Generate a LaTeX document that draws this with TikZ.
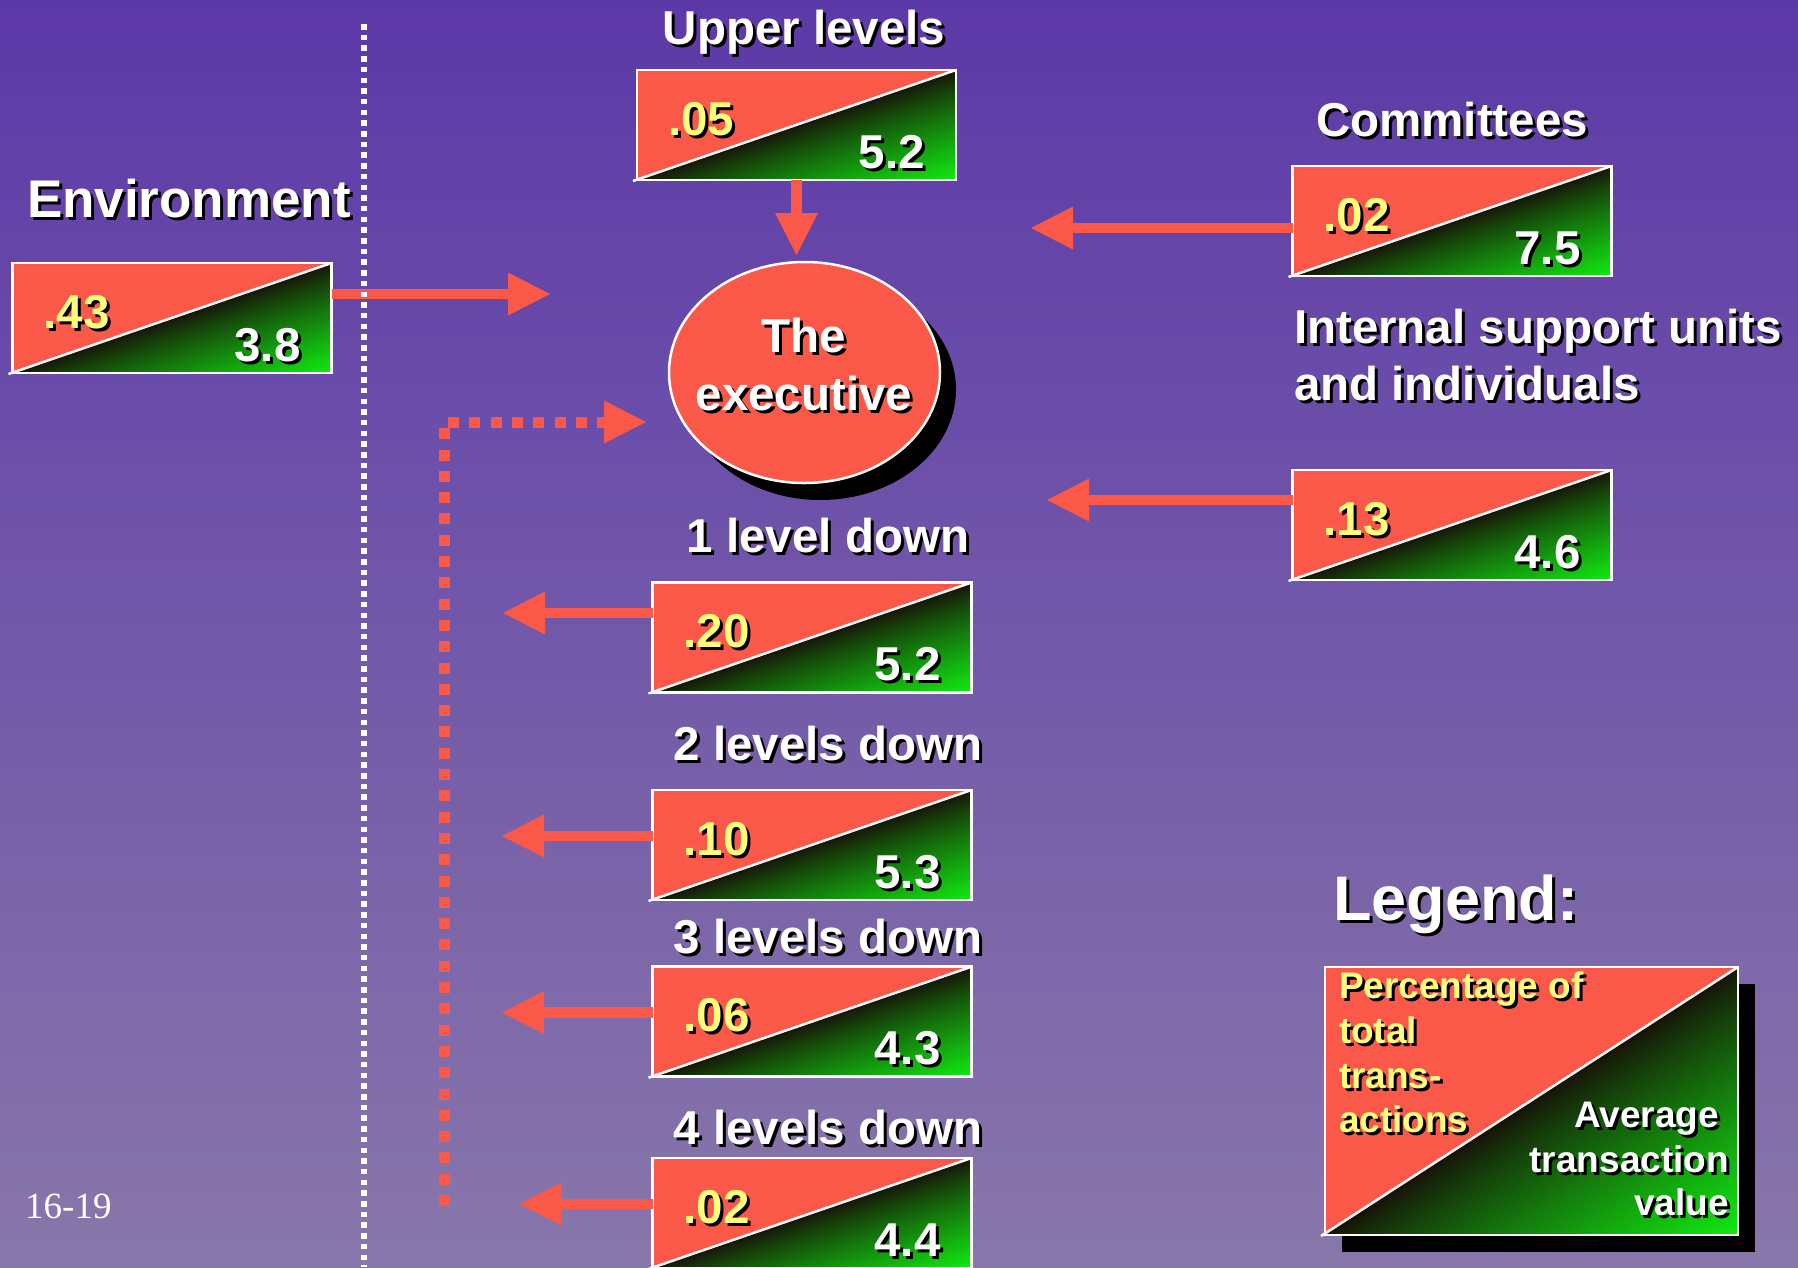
\documentclass[tikz,border=0pt]{standalone}
\usepackage{fontspec}
\setmainfont{Liberation Sans}
\newfontfamily\pagenumfont{Liberation Serif}
\usetikzlibrary{arrows.meta,calc,shapes.geometric}

\definecolor{bgtop}{RGB}{92,57,168}
\definecolor{bgbot}{RGB}{136,119,170}
\definecolor{boxred}{RGB}{250,88,72}
\definecolor{boxgreen}{RGB}{17,235,17}
\definecolor{wedgedark}{RGB}{22,20,8}
\definecolor{numyellow}{RGB}{255,255,125}

\tikzset{
  txt/.style={inner sep=0pt, outer sep=0pt, anchor=base, text=white,
    font=\bfseries\fontsize{47.5}{57}\selectfont},
  envfont/.style={font=\bfseries\fontsize{53}{64}\selectfont},
  titlefont/.style={font=\bfseries\fontsize{63}{76}\selectfont},
  legfont/.style={font=\bfseries\fontsize{37}{44}\selectfont},
  ratiobox/.style={rectangle, minimum width=319pt, minimum height=110pt,
    inner sep=0pt, outer sep=0pt, fill=boxred},
  boxedge/.style={draw=white, line width=2.5pt, line join=miter},
  bigarrow/.style={draw=boxred, line width=10.5pt,
    -{Triangle[length=42pt,width=43pt,line width=0pt]}},
  dotarrow/.style={bigarrow, line width=11pt, dash pattern=on 11pt off 10.3pt},
}

% text with a black drop shadow
\newcommand\shtxt[4][]{%
  \node[txt,#1,text=black,xshift=3pt,yshift=-3pt] (#2-s) at (#3) {#4};
  \node[txt,#1] (#2) at (#3) {#4};}

% green wedge below the diagonal, white frame and diagonal
\newcommand\splitfill[1]{%
  \foreach \g in {0,2,...,98}{
    \pgfmathsetmacro\gmix{100*(\g/100)^0.85}
    \fill[boxgreen!\gmix!wedgedark]
      ($(#1.south west)!{\g/100}!(#1.south east)$) --
      ($(#1.north east)!{\g/100}!(#1.south east)$) --
      (#1.south east) -- cycle;}
  \draw[boxedge] (#1.south west) rectangle (#1.north east);
  \draw[boxedge] ([shift={(-4,1)}]#1.south west) -- (#1.north east);}

% box: name, centre, share of transactions, average value
\newcommand\ratiobox[4]{%
  \node[ratiobox] (#1) at (#2) {};
  \splitfill{#1}
  \shtxt[anchor=base west,text=numyellow]{#1-p}{$(#1.north west)+(31,65)$}{#3}
  \shtxt[anchor=base east]{#1-v}{$(#1.north east)+(-31,98)$}{#4}}

\begin{document}
\begin{tikzpicture}[x=1pt,y=-1pt]
\useasboundingbox (0,0) rectangle (1798,1267);
\shade[top color=bgtop, bottom color=bgbot] (0,0) rectangle (1798,1267);

% the executive
\node[ellipse, minimum width=271pt, minimum height=221pt, inner sep=0pt,
  fill=black] (exec-sh) at (820.5,389.5) {};
\node[ellipse, minimum width=271pt, minimum height=221pt, inner sep=0pt,
  fill=boxred, draw=white, line width=2.5pt] (exec) at (804.5,372.5) {};
\shtxt{lthe}{804,352}{The}
\shtxt{lexec}{804,410}{executive}

% transaction boxes
\ratiobox{env}{172,318}{.43}{3.8}
\ratiobox{up}{796.5,125}{.05}{5.2}
\ratiobox{com}{1452,221}{.02}{7.5}
\ratiobox{isu}{1452,525}{.13}{4.6}
\ratiobox{d1}{812,637.5}{.20}{5.2}
\ratiobox{d2}{812,845}{.10}{5.3}
\ratiobox{d3}{812,1021.7}{.06}{4.3}
\ratiobox{d4}{812,1213}{.02}{4.4}

% labels
\shtxt{lup}{804,44.5}{Upper levels}
\shtxt[envfont]{lenv}{189,217}{Environment}
\shtxt{lcom}{1452,136}{Committees}
\shtxt[anchor=base west]{lisu1}{1294,343}{Internal support units}
\shtxt[anchor=base west]{lisu2}{1294,400}{and individuals}
\shtxt{ld1}{828,552.5}{1 level down}
\shtxt{ld2}{828,760}{2 levels down}
\shtxt{ld3}{828,953}{3 levels down}
\shtxt{ld4}{828,1144}{4 levels down}

% transaction arrows
\coordinate (envtip) at (550,294);
\coordinate (uptip) at (796.5,255);
\coordinate (comtip) at (1031,228);
\coordinate (isutip) at (1047,500);
\coordinate (d1tip) at (503,613);
\coordinate (d2tip) at (502,836);
\coordinate (d3tip) at (502,1012.5);
\coordinate (d4tip) at (519.5,1204);
\draw[bigarrow] (envtip -| env.east) -- (envtip);
\draw[bigarrow] (up.south) -- (uptip);
\draw[bigarrow] (comtip -| com.west) -- (comtip);
\draw[bigarrow] (isutip -| isu.west) -- (isutip);
\draw[bigarrow] (d1tip -| d1.west) -- (d1tip);
\draw[bigarrow] (d2tip -| d2.west) -- (d2tip);
\draw[bigarrow] (d3tip -| d3.west) -- (d3tip);
\draw[bigarrow] (d4tip -| d4.west) -- (d4tip);

% return path from the lower levels
\coordinate (dotstart) at (444,1206);
\coordinate (dottip) at (646,422);
\draw[dotarrow] (dotstart) |- (dottip);

% boundary of the organisation
\coordinate (divtop) at (364,24);
\coordinate (divbot) at (364,1267);
\draw[white, line width=6pt, dash pattern=on 5.5pt off 5.2pt] (divtop) -- (divbot);

% legend
\shtxt[anchor=base west, titlefont]{legt}{1333,920}{Legend:}
\node[rectangle, minimum width=413pt, minimum height=268pt, inner sep=0pt,
  outer sep=0pt, fill=black] (leg-sh) at (1548.5,1118) {};
\node[ratiobox, minimum width=413pt, minimum height=268pt] (leg) at (1531.5,1101) {};
\splitfill{leg}
\shtxt[anchor=base west, legfont, text=numyellow]{lp1}{1339,998}{Percentage of}
\shtxt[anchor=base west, legfont, text=numyellow]{lp2}{1339,1043}{total}
\shtxt[anchor=base west, legfont, text=numyellow]{lp3}{1339,1088}{trans-}
\shtxt[anchor=base west, legfont, text=numyellow]{lp4}{1339,1132}{actions}
\shtxt[anchor=base east, legfont]{lv1}{1719,1127}{Average}
\shtxt[anchor=base east, legfont]{lv2}{1729,1172}{transaction}
\shtxt[anchor=base east, legfont]{lv3}{1729,1215}{value}

% page number
\node[anchor=base west, inner sep=0pt, text=white,
  font=\pagenumfont\fontsize{37}{44}\selectfont] (pg) at (25,1218) {16-19};
\end{tikzpicture}
\end{document}
